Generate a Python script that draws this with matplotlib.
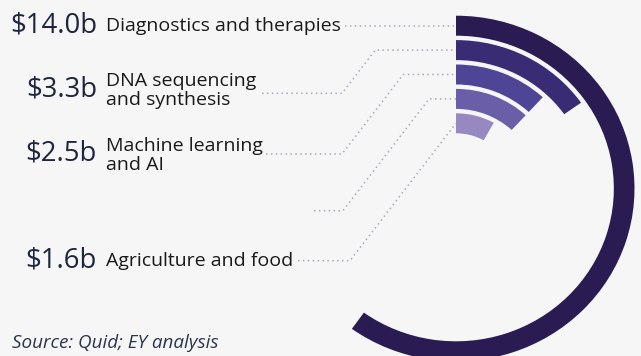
import numpy as np
import matplotlib
matplotlib.use('Agg')
import matplotlib.pyplot as plt

# data
amounts = [14.0, 3.3, 2.5, 2.5, 1.6]
amount_labels = ['$14.0b', '$3.3b', '$2.5b', '', '$1.6b']
sectors = ['Diagnostics and therapies', 'DNA sequencing\nand synthesis',
           'Machine learning\nand AI', '', 'Agriculture and food']
colors = ['#2a1c52', '#392b74', '#4f4597', '#6a5ea8', '#9788c2']

bg = '#f6f6f6'
plt.rcParams['font.family'] = ['Open Sans', 'DejaVu Sans']

W, H = 641, 356
fig = plt.figure(figsize=(W / 100, H / 100), dpi=100, facecolor=bg)

# overlay in pixel coords (y down)
ax = fig.add_axes([0, 0, 1, 1])
ax.set_xlim(0, W)
ax.set_ylim(H, 0)
ax.axis('off')

# ring geometry (pixels)
cx, cy = 456, 188.5
R = 180
sx = 1.033  # picture is a bit wider than tall
ring_out = 172.8
pitch = 24.4
thick = 20
deg0, deg_per_b = 5, 15.05

pw = 2 * R * sx
pax = fig.add_axes([(cx - pw / 2) / W, (H - cy - R) / H, pw / W, 2 * R / H],
                   projection='polar')
pax.set_aspect('auto')
pax.set_theta_zero_location('N')
pax.set_theta_direction(-1)
pax.set_ylim(0, R)
pax.axis('off')
pax.patch.set_visible(False)

for i, v in enumerate(amounts):
    w = np.deg2rad(deg0 + deg_per_b * v)
    r_in = ring_out - i * pitch - thick
    pax.bar(w / 2, thick, width=w, bottom=r_in, color=colors[i],
            edgecolor='none', align='center')

# leader lines
kink = [None, (342, 93.3), (342, 154), (343, 210.7), (350, 260.7)]
starts = [345, 262, 266, 314, 298]
slope = 0.77
dot = dict(color='#a3adbb', lw=1.1, linestyle=(0, (1, 2.2)))
for i in range(len(amounts)):
    ry = cy - (ring_out - i * pitch - thick / 2)
    if kink[i] is None:
        ax.plot([starts[i], cx], [ry, ry], **dot)
        continue
    kx, ky = kink[i]
    tx = kx + slope * (ky - ry)
    if tx >= cx - 1:
        ax.plot([starts[i], kx, cx], [ky, ky, ry], **dot)
    else:
        ax.plot([starts[i], kx, tx, cx], [ky, ky, ry, ry], **dot)

# labels (y = baseline of last line)
num_y = [32.3, 96.7, 160.7, None, 267.3]
lab_y = [31, 105, 170, None, 266]
for i in range(len(amounts)):
    if num_y[i] is None:
        continue
    ax.text(97, num_y[i], amount_labels[i], ha='right', va='baseline',
            fontsize=19.8, color='#1d2540')
    ax.text(106, lab_y[i], sectors[i], ha='left', va='baseline',
            fontsize=14, color='#1a1a1a', linespacing=1.1)

ax.text(12, 348.3, 'Source: Quid; EY analysis', ha='left', va='baseline',
        fontsize=13.6, style='italic', color='#2b354d')

fig.savefig('out.png', dpi=100, facecolor=bg)
